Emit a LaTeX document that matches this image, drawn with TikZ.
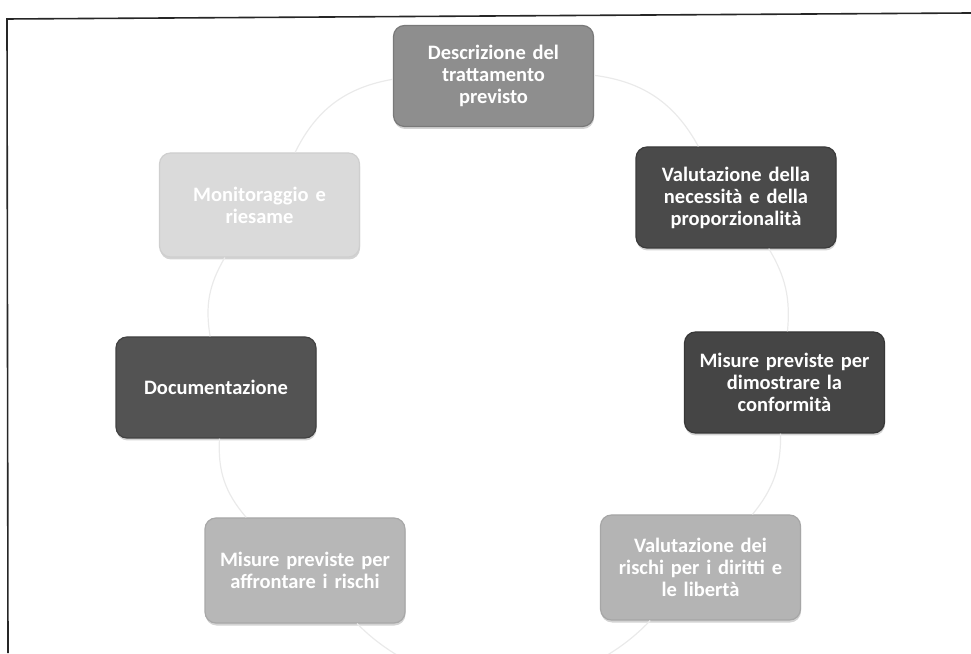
\documentclass[tikz,border=0pt]{standalone}
\usepackage{fontspec}
\setmainfont{Carlito}
\usetikzlibrary{shadows}
\definecolor{cA}{HTML}{8E8E8E}
\definecolor{cB}{HTML}{4A4A4A}
\definecolor{cC}{HTML}{454545}
\definecolor{cD}{HTML}{B4B4B4}
\definecolor{cE}{HTML}{B7B7B7}
\definecolor{cF}{HTML}{535353}
\definecolor{cG}{HTML}{DADADA}
\definecolor{ringc}{HTML}{EAEAEA}
\tikzset{
  stepbox/.style={rectangle, rounded corners=11pt, minimum width=200pt,
    minimum height=101pt, text width=190pt, align=center, text=white,
    font={\fontsize{20.5}{22}\selectfont\bfseries\spaceskip=0.17em\relax},
    line width=1.2pt,
    drop shadow={opacity=0.35, shadow xshift=0.5pt, shadow yshift=-2.5pt}},
  ring/.style={draw=ringc, line width=1.2pt},
  frameline/.style={draw=black!85, line width=1.6pt}
}
\begin{document}
\begin{tikzpicture}[x=1pt,y=1pt]
\useasboundingbox (0,0) rectangle (971,653);
% frame
\coordinate (fTL) at (7,634);
\coordinate (fTR) at (971,640);
\coordinate (fBL) at (8,0);
\draw[frameline] (fBL) -- (fTL) -- (fTR);
% box centres
\coordinate (c1) at (493.5,577);
\coordinate (c2) at (736,455.5);
\coordinate (c3) at (784.5,270.5);
\coordinate (c4) at (700.5,85.5);
\coordinate (c5) at (305,82.5);
\coordinate (c6) at (216,265.5);
\coordinate (c7) at (259.5,448);
% nodes
\node[stepbox, fill=cA, draw=cA!85!black] (d1) at (c1) {Descrizione del\\trattamento\\previsto};
\node[stepbox, fill=cB, draw=cB!80!black] (d2) at (c2) {Valutazione della\\necessità e della\\proporzionalità};
\node[stepbox, fill=cC, draw=cC!80!black] (d3) at (c3) {Misure previste per\\dimostrare la\\conformità};
\node[stepbox, fill=cD, draw=cD!92!black, minimum height=105pt] (d4) at (c4) {Valutazione dei\\rischi per i diritti e\\le libertà};
\node[stepbox, fill=cE, draw=cE!92!black, minimum height=105pt] (d5) at (c5) {Misure previste per\\affrontare i rischi};
\node[stepbox, fill=cF, draw=cF!80!black] (d6) at (c6) {Documentazione};
\node[stepbox, fill=cG, draw=cG!95!black, minimum height=104pt] (d7) at (c7) {Monitoraggio e\\riesame};
% ring connectors
\draw[ring] (d1) to[bend left=27] (d2);
\draw[ring] (d2) to[bend left=18] (d3);
\draw[ring] (d3) to[bend left=20] (d4);
\draw[ring] (d4) to[bend left=46] (d5);
\draw[ring] (d5) to[bend left=22] (d6);
\draw[ring] (d6) to[bend left=20] (d7);
\draw[ring] (d7) to[bend left=27] (d1);
\end{tikzpicture}
\end{document}
